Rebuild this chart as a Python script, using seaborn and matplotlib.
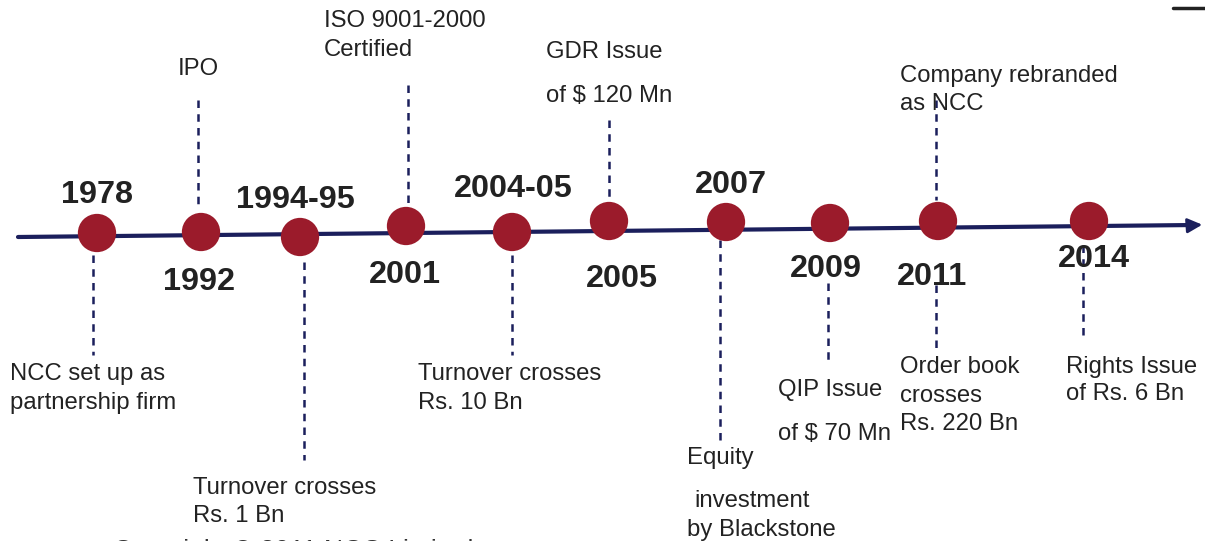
"""NCC milestones timeline."""

import matplotlib.pyplot as plt
import pandas as pd
import seaborn as sns

# milestone circles (pixel space of the 1205x541 slide)
years = ["1978", "1992", "1994-95", "2001", "2004-05", "2005", "2007", "2009", "2011", "2014"]
dot_x = [97, 201, 300, 406, 512, 609, 726, 830, 938, 1089]
dot_y = [233, 232, 237, 226, 232, 221, 222, 223, 221, 221]

# year captions
year_lx = [97, 199, 295, 405, 513, 622, 731, 826, 932, 1094]
year_ly = [195, 282, 200, 275, 189, 279, 185, 269, 277, 259]

# dashed connectors: x, y start, y end
conn_x = [93, 198, 304, 408, 512, 609, 720, 828, 936, 936, 1083]
conn_y0 = [255, 100, 262, 85, 255, 120, 240, 283, 100, 285, 245]
conn_y1 = [355, 205, 460, 205, 355, 200, 440, 365, 200, 350, 340]

# event text lines
lines = [
    "ISO 9001-2000", "Certified",
    "GDR Issue", "of $ 120 Mn",
    "Company rebranded", "as NCC",
    "NCC set up as", "partnership firm",
    "Turnover crosses", "Rs. 10 Bn",
    "Turnover crosses", "Rs. 1 Bn",
    "Equity", "investment", "by Blackstone",
    "QIP Issue", "of $ 70 Mn",
    "Order book", "crosses", "Rs. 220 Bn",
    "Rights Issue", "of Rs. 6 Bn",
]
line_x = [324, 324, 546, 546, 900, 900, 10, 10, 418, 418, 193, 193,
          687, 694, 687, 778, 778, 900, 900, 900, 1066, 1066]
line_y = [21, 50, 52, 96, 76, 104, 374, 403, 374, 403, 488, 516,
          458, 501, 530, 390, 434, 367, 396, 424, 367, 394]

axis_x = [18, 1195]
axis_y = [237, 225]

NAVY = "#1b1f5c"
RED = "#9b1b2b"
INK = "#222222"

sns.set_theme(style="white")
plt.rcParams["font.family"] = ["Liberation Sans", "DejaVu Sans"]

fig = plt.figure(figsize=(12.05, 5.41), dpi=100)
ax = fig.add_axes([0, 0, 1, 1])
ax.set_xlim(0, 1205)
ax.set_ylim(541, 0)
ax.axis("off")

sns.lineplot(x=axis_x, y=axis_y, color=NAVY, linewidth=3, ax=ax, zorder=2)
ax.annotate("", xy=(1205, 224.5), xytext=(1190, 225.5),
            arrowprops=dict(arrowstyle="-|>", color=NAVY, lw=2, mutation_scale=22))

for x, y0, y1 in zip(conn_x, conn_y0, conn_y1):
    ax.plot([x, x], [y0, y1], color=NAVY, linewidth=1.8, linestyle=(0, (3, 2.5)), zorder=1)

dots = pd.DataFrame({"x": dot_x, "y": dot_y, "year": years})
sns.scatterplot(data=dots, x="x", y="y", s=760, color=RED, edgecolor="none", ax=ax, zorder=3, legend=False)

for label, x, y in zip(years, year_lx, year_ly):
    ax.text(x, y, label, ha="center", va="center", fontsize=23.3, fontweight="bold", color=INK, zorder=4)

ax.text(198, 69, "IPO", ha="center", va="center", fontsize=17.2, color=INK)
for label, x, y in zip(lines, line_x, line_y):
    ax.text(x, y, label, ha="left", va="center", fontsize=17.2, color=INK)

ax.text(113, 551, "Copyright © 2011 NCC Limited", ha="left", va="center", fontsize=19, color="#333333")
ax.plot([1173, 1205], [8, 8], color="#222222", linewidth=2.5)

fig.savefig("out.png", dpi=100)
plt.close(fig)
